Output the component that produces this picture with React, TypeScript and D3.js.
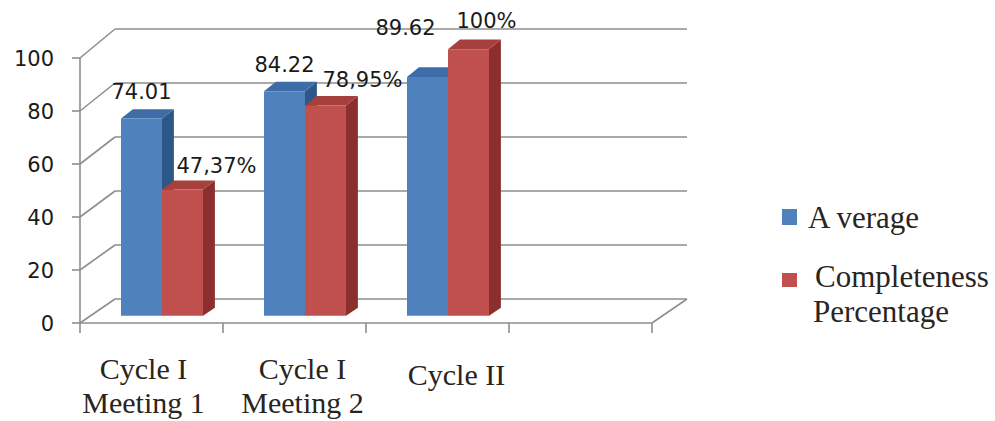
import React from "react";
import * as d3 from "d3";

const categories = ["Cycle I|Meeting 1", "Cycle I|Meeting 2", "Cycle II", ""];
const seriesNames = ["A verage", "Completeness|Percentage"];
const averageValues = [74.01, 84.22, 89.62];
const completenessValues = [47.37, 78.95, 100];
const averageLabels = ["74.01", "84.22", "89.62"];
const completenessLabels = ["47,37%", "78,95%", "100%"];
const yTicks = [0, 20, 40, 60, 80, 100];

// layout constants (not data)
const W = 995, H = 421;
const X0 = 80, X1 = 652;
const DEPTH_DX = 35;
const BAR_Z0 = 0.3, BAR_Z1 = 0.64;
const avgNudge: [number, number][] = [[0, -20], [0, -19], [-22, -42]];
const compNudge: [number, number][] = [[34, -17], [37, -18], [18, -21]];
const catLabelNudge = [-8, 8, 19];

const colors = [
  { front: "#4F81BD", top: "#3E6CA8", side: "#2D5689" },
  { front: "#C0504D", top: "#A6403D", side: "#8A2F2D" },
];

export default function App() {
  const x = d3.scaleBand<string>().domain(categories).range([X0, X1]).padding(0);
  const yFront = d3.scaleLinear().domain([0, 100]).range([323, 58]);
  const yBack = d3.scaleLinear().domain([0, 100]).range([299, 29]);
  const inner = d3.scaleBand<string>().domain(seriesNames).range([0, 82]);

  const proj = (xf: number, v: number, z: number): [number, number] => [
    xf + z * DEPTH_DX,
    yFront(v) * (1 - z) + yBack(v) * z,
  ];
  const pts = (arr: [number, number][]) => arr.map((p) => p.join(",")).join(" ");

  const grid = "#8e8e8e";
  const series = [averageValues, completenessValues];
  const seriesLabels = [averageLabels, completenessLabels];
  const nudges = [avgNudge, compNudge];

  const bars: React.ReactNode[] = [];
  const labels: React.ReactNode[] = [];
  averageValues.forEach((_, ci) => {
    const bandStart = x(categories[ci])!;
    const pairOffset = (x.bandwidth() - 82) / 2;
    series.forEach((vals, si) => {
      const v = vals[ci];
      const xl = bandStart + pairOffset + inner(seriesNames[si])!;
      const xr = xl + inner.bandwidth();
      const fbl = proj(xl, 0, BAR_Z0), fbr = proj(xr, 0, BAR_Z0);
      const ftl = proj(xl, v, BAR_Z0), ftr = proj(xr, v, BAR_Z0);
      const btl = proj(xl, v, BAR_Z1), btr = proj(xr, v, BAR_Z1);
      const bbr = proj(xr, 0, BAR_Z1);
      const c = colors[si];
      bars.push(
        <g key={`b${ci}-${si}`}>
          <polygon points={pts([fbr, ftr, btr, bbr])} fill={c.side} />
          <polygon points={pts([ftl, ftr, btr, btl])} fill={c.top} />
          <polygon points={pts([fbl, fbr, ftr, ftl])} fill={c.front} />
        </g>
      );
      const [nx, ny] = nudges[si][ci];
      labels.push(
        <text
          key={`l${ci}-${si}`}
          x={(ftl[0] + ftr[0]) / 2 + nx}
          y={ftl[1] + ny}
          textAnchor="middle"
          fontFamily="DejaVu Sans"
          fontSize={21}
          fill="#1a1a1a"
        >
          {seriesLabels[si][ci]}
        </text>
      );
    });
  });

  return (
    <svg width={W} height={H} style={{ position: "absolute", left: 0, top: 0, background: "#fff" }}>
      {/* left wall diagonals and back wall gridlines */}
      {yTicks.map((t) => {
        const f = proj(X0, t, 0);
        const b = proj(X0, t, 1);
        const br = [X1 + DEPTH_DX, yBack(t)];
        return (
          <g key={`g${t}`} stroke={grid} strokeWidth={1.6} fill="none">
            <line x1={f[0]} y1={f[1]} x2={b[0]} y2={b[1]} />
            <line x1={b[0]} y1={b[1]} x2={br[0]} y2={br[1]} />
            <line x1={X0 - 8} y1={f[1]} x2={X0} y2={f[1]} />
          </g>
        );
      })}
      {/* floor */}
      <g stroke={grid} strokeWidth={1.6} fill="none">
        <line x1={X0} y1={yFront(0)} x2={X1} y2={yFront(0)} />
        <line x1={X1} y1={yFront(0)} x2={X1 + DEPTH_DX} y2={yBack(0)} />
        <line x1={X0} y1={yFront(0)} x2={X0} y2={yFront(100)} />
        {categories.map((c, i) => (
          <line key={`t${i}`} x1={x(c)!} y1={yFront(0)} x2={x(c)!} y2={yFront(0) + 10} />
        ))}
        <line x1={X1} y1={yFront(0)} x2={X1} y2={yFront(0) + 10} />
      </g>
      {/* y tick labels */}
      {yTicks.map((t) => (
        <text
          key={`yl${t}`}
          x={54}
          y={yFront(t)}
          dy="0.36em"
          textAnchor="end"
          fontFamily="DejaVu Sans"
          fontSize={21}
          fill="#1a1a1a"
        >
          {t}
        </text>
      ))}
      {bars}
      {labels}
      {/* category labels */}
      {categories.slice(0, 3).map((c, i) => {
        const lines = c.split("|");
        const cx = x(c)! + x.bandwidth() / 2 + catLabelNudge[i];
        return (
          <text
            key={`c${i}`}
            textAnchor="middle"
            fontFamily="Liberation Serif"
            fontSize={30}
            fill="#2a2420"
          >
            {lines.map((ln, j) => (
              <tspan key={j} x={cx} y={(lines.length === 1 ? 385 : 379) + j * 34}>
                {ln}
              </tspan>
            ))}
          </text>
        );
      })}
      {/* legend */}
      <rect x={782} y={209} width={15} height={16} fill={colors[0].front} />
      <text x={808} y={228} fontFamily="Liberation Serif" fontSize={31} fill="#2a2420">
        {seriesNames[0]}
      </text>
      <rect x={782} y={273} width={15} height={14} fill={colors[1].front} />
      <text fontFamily="Liberation Serif" fontSize={31} fill="#2a2420">
        {seriesNames[1].split("|").map((ln, j) => (
          <tspan key={j} x={815 - j * 2} y={287 + j * 35}>
            {ln}
          </tspan>
        ))}
      </text>
    </svg>
  );
}
